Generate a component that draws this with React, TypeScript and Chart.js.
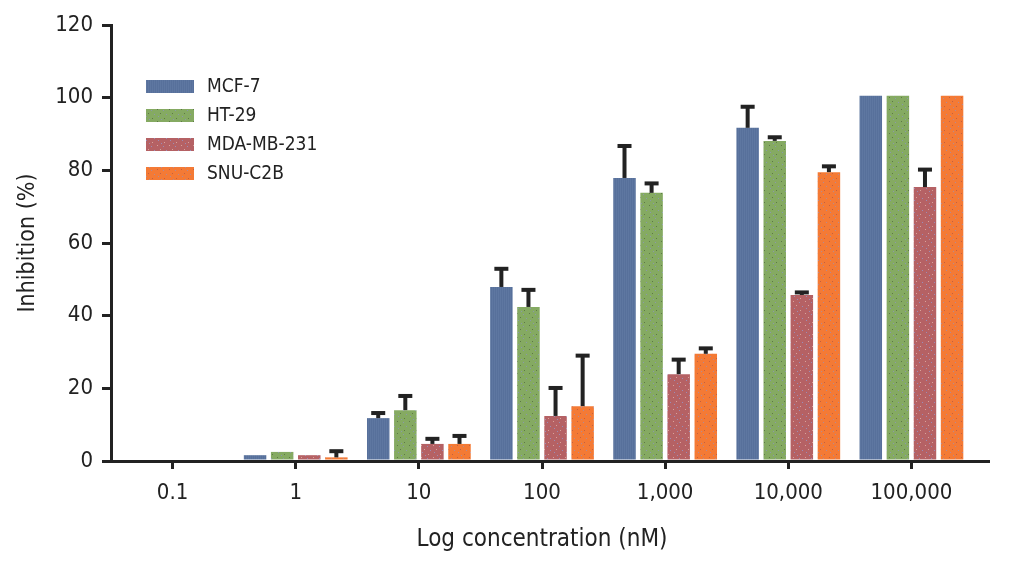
import React, { useEffect, useRef } from 'react';
import { Chart, registerables } from 'chart.js';

Chart.register(...registerables);

// ---- Data ----
const categories = ['0.1', '1', '10', '100', '1,000', '10,000', '100,000'];
const seriesNames = ['MCF-7', 'HT-29', 'MDA-MB-231', 'SNU-C2B'];

const mcf7 = [0, 1.6, 11.8, 47.9, 77.9, 91.7, 100.5];
const mcf7Err = [0, 0, 1.4, 5.0, 8.8, 5.8, 0];
const ht29 = [0, 2.5, 14.0, 42.4, 73.8, 88.1, 100.5];
const ht29Err = [0, 0, 3.9, 4.7, 2.6, 1.0, 0];
const mdaMb231 = [0, 1.6, 4.7, 12.4, 23.9, 45.7, 75.4];
const mdaMb231Err = [0, 0, 1.4, 7.7, 4.0, 0.7, 4.8];
const snuC2b = [0, 1.0, 4.7, 15.1, 29.5, 79.5, 100.5];
const snuC2bErr = [0, 1.7, 2.2, 13.9, 1.5, 1.6, 0];

const yTicksMin = 0;
const yTicksMax = 120;
const yTicksStep = 20;

const FONT = "'Liberation Sans Narrow', 'Arial Narrow', 'DejaVu Sans Condensed', Roboto, sans-serif";
const INK = '#222222';

function makePattern(base: string, kind: 'stripes' | 'dots', accents: string[]): CanvasPattern | string {
  const c = document.createElement('canvas');
  c.width = 12;
  c.height = 12;
  const g = c.getContext('2d');
  if (!g) return base;
  g.fillStyle = base;
  g.fillRect(0, 0, 12, 12);
  if (kind === 'stripes') {
    g.fillStyle = accents[0];
    for (let x = 0; x < 12; x += 2) g.fillRect(x, 0, 1, 12);
  } else {
    const spots = [
      [1, 1, 0], [7, 2, 1], [4, 5, 0], [10, 6, 1], [2, 8, 1], [8, 10, 0], [5, 11, 1],
    ];
    spots.forEach(([x, y, k]) => {
      g.fillStyle = accents[k];
      g.fillRect(x, y, 1, 1);
    });
  }
  const p = g.createPattern(c, 'repeat');
  return p || base;
}

const errorBarPlugin = {
  id: 'errorBars',
  afterDatasetsDraw(chart: any) {
    const ctx = chart.ctx;
    const y = chart.scales.y;
    chart.data.datasets.forEach((ds: any, i: number) => {
      const meta = chart.getDatasetMeta(i);
      meta.data.forEach((bar: any, j: number) => {
        const e = ds.errors[j];
        if (!e) return;
        const v = ds.data[j];
        const yTop = y.getPixelForValue(v + e);
        ctx.save();
        ctx.fillStyle = INK;
        ctx.fillRect(bar.x - 2, yTop, 4, bar.y - yTop);
        ctx.fillRect(bar.x - 7, yTop - 2, 14, 4);
        ctx.restore();
      });
    });
  },
};

const legendPlugin = {
  id: 'insideLegend',
  afterDraw(chart: any) {
    const ctx = chart.ctx;
    ctx.save();
    chart.data.datasets.forEach((ds: any, i: number) => {
      const top = 80 + i * 29;
      ctx.fillStyle = ds.backgroundColor;
      ctx.fillRect(146, top, 48, 13);
      ctx.fillStyle = INK;
      ctx.font = `19px ${FONT}`;
      ctx.textBaseline = 'middle';
      ctx.textAlign = 'left';
      ctx.fillText(ds.label, 207, top + 7);
    });
    ctx.restore();
  },
};

const axisExtendPlugin = {
  id: 'axisExtend',
  afterDraw(chart: any) {
    const ctx = chart.ctx;
    const { right, bottom } = chart.chartArea;
    ctx.save();
    ctx.strokeStyle = INK;
    ctx.lineWidth = 3;
    ctx.beginPath();
    ctx.moveTo(right - 1, bottom + 0.5);
    ctx.lineTo(990, bottom + 0.5);
    ctx.stroke();
    ctx.restore();
  },
};

export default function App() {
  const ref = useRef<HTMLCanvasElement | null>(null);

  useEffect(() => {
    if (!ref.current) return;
    const fills = [
      makePattern('#57709b', 'stripes', ['#5e77a1']),
      makePattern('#85aa62', 'dots', ['#5d7a44', '#8a98ae']),
      makePattern('#b56164', 'dots', ['#d9a29a', '#9b8cb6']),
      makePattern('#f47a35', 'dots', ['#c4603e', '#b08a98']),
    ];
    const values = [mcf7, ht29, mdaMb231, snuC2b];
    const errs = [mcf7Err, ht29Err, mdaMb231Err, snuC2bErr];

    const chart = new Chart(ref.current, {
      type: 'bar',
      data: {
        labels: categories,
        datasets: seriesNames.map((name, i) => ({
          label: name,
          data: values[i],
          errors: errs[i],
          backgroundColor: fills[i],
          borderWidth: 0,
          categoryPercentage: 0.88,
          barPercentage: 0.83,
        })) as any,
      },
      options: {
        responsive: false,
        animation: false,
        devicePixelRatio: 1,
        layout: { padding: { top: 25, right: 40, left: 0, bottom: 0 } },
        plugins: {
          legend: { display: false },
          tooltip: { enabled: false },
        },
        scales: {
          x: {
            offset: true,
            grid: {
              display: true,
              offset: false,
              drawOnChartArea: false,
              drawTicks: true,
              tickLength: 8,
              lineWidth: 3,
              color: INK,
            },
            border: { display: true, width: 3, color: INK },
            ticks: {
              color: INK,
              padding: 11,
              font: { family: FONT, size: 22 },
            },
            title: {
              display: true,
              text: 'Log concentration (nM)',
              color: INK,
              font: { family: FONT, size: 24 },
              padding: { top: 0, bottom: 9 },
            },
            afterFit: (s: any) => {
              s.height = 102;
            },
          },
          y: {
            min: yTicksMin,
            max: yTicksMax,
            grid: {
              display: true,
              drawOnChartArea: false,
              drawTicks: true,
              tickLength: 9,
              lineWidth: 3,
              color: INK,
            },
            border: { display: true, width: 3, color: INK },
            ticks: {
              stepSize: yTicksStep,
              color: INK,
              padding: 9,
              font: { family: FONT, size: 22 },
            },
            title: {
              display: true,
              text: 'Inhibition (%)',
              color: INK,
              font: { family: FONT, size: 23 },
              padding: { top: 14, bottom: 0 },
            },
            afterFit: (s: any) => {
              s.width = 111;
            },
          },
        },
      },
      plugins: [errorBarPlugin, legendPlugin, axisExtendPlugin],
    });
    return () => chart.destroy();
  }, []);

  return (
    <div style={{ position: 'absolute', left: 0, top: 0, width: 1013, height: 563, background: '#fff' }}>
      <canvas ref={ref} width={1013} height={563} style={{ width: 1013, height: 563, display: 'block' }} />
    </div>
  );
}
